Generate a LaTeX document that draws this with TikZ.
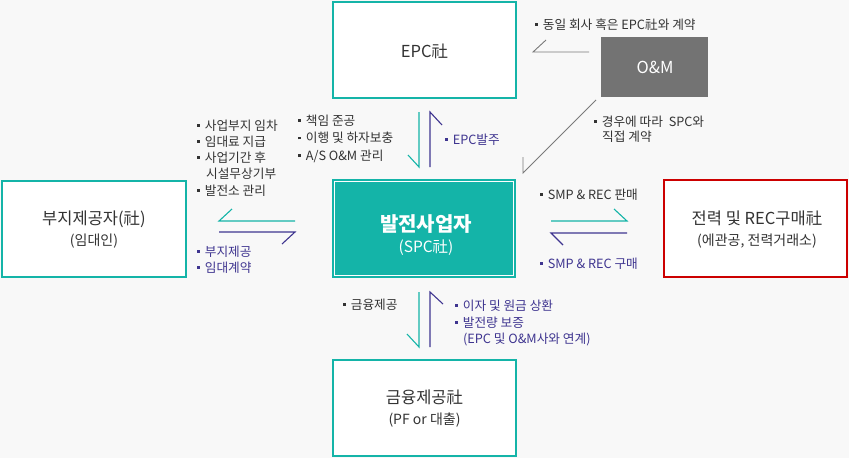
\documentclass[tikz,border=0pt]{standalone}
\usepackage{fontspec}
\setmainfont{Noto Sans CJK KR}
\definecolor{bg}{HTML}{F8F8F8}
\definecolor{tealc}{HTML}{14B4A8}
\definecolor{purp}{HTML}{3F3590}
\definecolor{txt}{HTML}{333333}
\definecolor{gline}{HTML}{7A7A7A}
\definecolor{omfill}{HTML}{737373}
\definecolor{redc}{HTML}{CC0000}
\newcommand\bul{\rule[0.25em]{0.2em}{0.2em}\hspace{0.4em}}
\tikzset{
  boxt/.style={draw=tealc, line width=2.2pt, fill=white, inner sep=0},
  lbl/.style={anchor=base west, inner sep=0, text=txt, font=\fontsize{12.7}{15}\selectfont},
  plbl/.style={lbl, text=purp},
  ttl/.style={anchor=base, inner sep=0, text=txt, font=\fontsize{16.5}{19}\selectfont},
  sub/.style={anchor=base, inner sep=0, text=txt, font=\fontsize{14}{16}\selectfont},
  tline/.style={draw=tealc, line width=1.1pt},
  pline/.style={draw=purp, line width=1.1pt},
  gl/.style={draw=gline, line width=0.9pt}
}
\begin{document}
\begin{tikzpicture}[x=1pt,y=-1pt]
\useasboundingbox (0,0) rectangle (849,458);
\fill[bg] (0,0) rectangle (849,458);
% boxes
\node[boxt, minimum width=183pt, minimum height=96pt] (epc) at (424.5,50) {};
\node[boxt, minimum width=184pt, minimum height=96pt] (land) at (94,229) {};
\node[draw=redc, line width=2.2pt, fill=white, minimum width=183pt, minimum height=97pt, inner sep=0] (buy) at (755.5,228.5) {};
\node[boxt, minimum width=183pt, minimum height=96pt] (fin) at (424.5,408) {};
\node[fill=omfill, minimum width=107pt, minimum height=60pt, inner sep=0] (om) at (654.5,67) {};
\node[fill=tealc, minimum width=184pt, minimum height=99pt, inner sep=0] (spc) at (424,228.5) {};
\draw[white, line width=0.8pt] ([shift={(3pt,-3pt)}]spc.north west) rectangle ([shift={(-3pt,3pt)}]spc.south east);
% titles
\node[ttl] (epct) at (424.5,57) {EPC社};
\node[anchor=base, inner sep=0, text=white, font=\fontsize{16.5}{19}\selectfont] (omt) at (655,73) {O\&M};
\node[anchor=base, inner sep=0, text=white, font=\fontsize{20}{23}\selectfont\bfseries] (spct) at (426,231) {발전사업자};
\node[anchor=base, inner sep=0, text=white, font=\fontsize{15.5}{18}\selectfont] (spcs) at (426,252) {(SPC社)};
\node[ttl] (landt) at (94,224) {부지제공자(社)};
\node[sub] (lands) at (94,245) {(임대인)};
\node[ttl] (buyt) at (757,224) {전력 및 REC구매社};
\node[sub] (buys) at (757,245) {(에관공, 전력거래소)};
\node[ttl] (fint) at (424.5,403) {금융제공社};
\node[sub] (fins) at (424.5,424) {(PF or 대출)};
% labels
\node[lbl] (l1) at (197,130) {\bul 사업부지 임차};
\node[lbl] (l2) at (197,146) {\bul 임대료 지급};
\node[lbl] (l3) at (197,162) {\bul 사업기간 후};
\node[lbl] (l4) at (205.9,178) {시설무상기부};
\node[lbl] (l5) at (197,195) {\bul 발전소 관리};
\node[lbl] (m1) at (298,125) {\bul 책임 준공};
\node[lbl] (m2) at (298,142.5) {\bul 이행 및 하자보충};
\node[lbl] (m3) at (298,160) {\bul A/S O\&M 관리};
\node[plbl] (e1) at (445,144) {\bul EPC발주};
\node[lbl] (o1) at (535,29) {\bul 동일 회사 혹은 EPC社와 계약};
\node[lbl] (o2) at (594,126) {\bul 경우에 따라~~SPC와};
\node[lbl] (o3) at (601.9,141) {직접 계약};
\node[lbl] (r1) at (540,199) {\bul SMP \& REC 판매};
\node[plbl] (r2) at (540,268) {\bul SMP \& REC 구매};
\node[plbl] (p1) at (197,256) {\bul 부지제공};
\node[plbl] (p2) at (197,272) {\bul 임대계약};
\node[lbl] (f1) at (343,309) {\bul 금융제공};
\node[plbl] (f2) at (455,310) {\bul 이자 및 원금 상환};
\node[plbl] (f3) at (455,327) {\bul 발전량 보증};
\node[plbl] (f4) at (462.9,343) {(EPC 및 O\&M사와 연계)};
% connector coordinates
\coordinate (a1) at (419,112); \coordinate (a2) at (419,167);
\coordinate (b1) at (430,167); \coordinate (b2) at (430,112);
\coordinate (c1) at (295,221); \coordinate (c2) at (219,221);
\coordinate (d1) at (219,232); \coordinate (d2) at (295,232);
\coordinate (e1c) at (551,221); \coordinate (e2c) at (627,221);
\coordinate (g1) at (627,233); \coordinate (g2) at (551,233);
\coordinate (h1) at (419,292); \coordinate (h2) at (419,347);
\coordinate (k1) at (430,347); \coordinate (k2) at (430,292);
\coordinate (q1) at (589,52); \coordinate (q2) at (533,52);
\coordinate (s1) at (596,100); \coordinate (s2) at (523,173);
% harpoons
\draw[tline] (a1) -- (a2) -- ++(-11,-12);
\draw[pline] (b1) -- (b2) -- ++(12,13);
\draw[tline] (c1) -- (c2) -- ++(13,-12);
\draw[pline] (d1) -- (d2) -- ++(-13,12);
\draw[tline] (e1c) -- (e2c) -- ++(-13,-12);
\draw[pline] (g1) -- (g2) -- ++(12,12);
\draw[tline] (h1) -- (h2) -- ++(-12,-13);
\draw[pline] (k1) -- (k2) -- ++(13,12);
\draw[gl] (q1) -- (q2) -- ++(13,-12);
\draw[gl] (s1) -- (s2) -- ++(0,-16);
\end{tikzpicture}
\end{document}
